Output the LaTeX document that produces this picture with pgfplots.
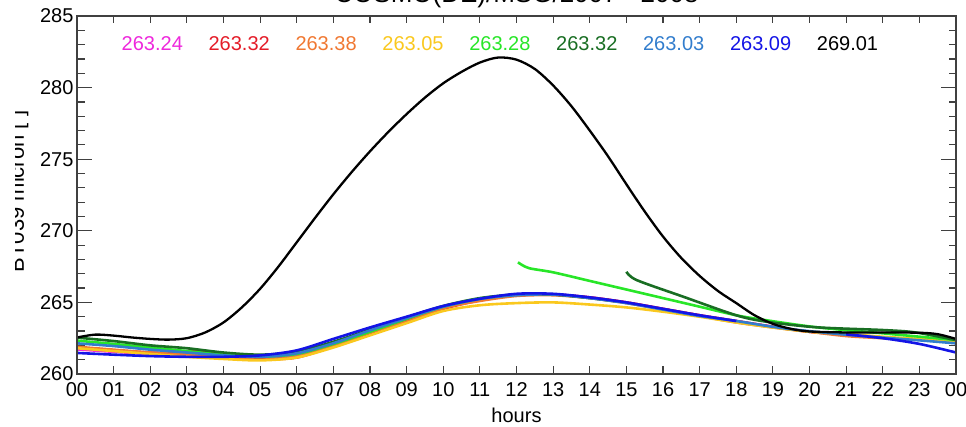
\documentclass[border=0pt]{standalone}
\usepackage{fontspec}
\setmainfont{Liberation Sans}
\usepackage{pgfplots}
\usepackage{pgfplotstable}
\pgfplotsset{compat=1.18}

\definecolor{cMag}{RGB}{238,40,220}
\definecolor{cRed}{RGB}{228,28,40}
\definecolor{cOra}{RGB}{240,120,50}
\definecolor{cYel}{RGB}{250,200,30}
\definecolor{cGre}{RGB}{40,230,40}
\definecolor{cDgr}{RGB}{25,110,35}
\definecolor{cSte}{RGB}{50,125,205}
\definecolor{cBlu}{RGB}{20,20,230}

\pgfplotstableread{
x y
0 262.55
0.5 262.75
1 262.68
1.5 262.55
2 262.45
2.5 262.4
3 262.5
3.5 262.9
4 263.6
4.5 264.65
5 265.95
5.5 267.5
6 269.2
6.5 270.9
7 272.55
7.5 274.1
8 275.55
8.5 276.9
9 278.15
9.5 279.3
10 280.3
10.5 281.1
11 281.75
11.5 282.1
12 281.95
12.5 281.3
13 280.15
13.5 278.7
14 277.0
14.5 275.2
15 273.25
15.5 271.35
16 269.6
16.5 268.1
17 266.85
17.5 265.8
18 264.95
18.5 264.1
19 263.5
19.5 263.15
20 262.97
21 262.9
22 262.9
23 262.88
23.5 262.78
24 262.45
}\blackdata

\pgfplotstableread{
x y
0 261.72
1 261.55
2 261.4
3 261.3
4 261.2
5 261.15
6 261.35
7 262.1
8 262.95
9 263.8
10 264.6
11 265.2
12 265.5
13 265.55
14 265.35
15 265.0
16 264.55
17 264.1
18 263.7
19 263.3
20 262.95
21 262.75
22 262.55
23 262.4
24 262.25
}\magdata

\pgfplotstableread{
x y
0 261.86
1 261.65
2 261.5
2.9 261.45
3.1 261.7
3.4 261.6
4 261.3
5 261.05
6 261.15
7 261.95
8 262.85
9 263.7
10 264.55
11 265.15
12 265.5
13 265.55
14 265.35
15 265.0
16 264.55
17 264.1
18 263.7
19 263.3
20 262.95
21 262.75
22 262.55
23 262.4
24 262.25
}\reddata

\pgfplotstableread{
x y
0 261.9
1 261.7
2 261.5
3 261.35
4 261.15
5 261.0
6 261.2
7 261.95
8 262.9
9 263.65
10 264.6
11 265.1
12 265.45
13 265.5
14 265.3
15 264.95
16 264.5
17 264.05
18 263.6
19 263.25
20 262.95
21 262.65
22 262.5
23 262.4
24 262.3
}\oradata

\pgfplotstableread{
x y
0 261.8
1 261.6
2 261.4
3 261.2
4 261.05
5 260.95
6 261.15
7 261.85
8 262.7
9 263.55
10 264.4
11 264.8
12 264.95
13 265.0
14 264.85
15 264.65
16 264.35
17 264.0
18 263.6
19 263.25
20 262.95
21 262.8
22 262.6
23 262.45
24 262.3
}\yeldata

\pgfplotstableread{
x y
0 262.33
1 262.1
2 261.85
3 261.6
4 261.35
5 261.2
6 261.4
7 262.1
8 262.95
9 263.85
10 264.7
11 265.25
11.8 265.5
}\greAdata

\pgfplotstableread{
x y
12.04 267.8
12.33 267.4
13 267.1
14 266.5
15 265.9
16 265.3
17 264.7
18 264.1
18.7 263.8
20.2 263.26
22 262.84
24 262.37
}\greBdata

\pgfplotstableread{
x y
0 262.54
1 262.3
2 262.0
3 261.8
4 261.5
5 261.35
6 261.55
7 262.25
8 263.1
9 263.95
10 264.75
11 265.3
12 265.55
13 265.55
14 265.3
14.8 265.05
}\dgrAdata

\pgfplotstableread{
x y
15.0 267.14
15.28 266.56
16.55 265.4
18.0 264.1
18.83 263.65
20.2 263.26
22.0 263.07
22.9 262.9
24.0 262.37
}\dgrBdata

\pgfplotstableread{
x y
0 262.14
1 261.95
2 261.7
3 261.5
4 261.3
5 261.2
6 261.45
7 262.15
8 263.05
9 263.9
10 264.7
11 265.25
12 265.5
13 265.55
14 265.3
15 264.95
16 264.5
17 264.05
18 263.7
19.3 263.19
21.1 262.72
22.9 262.37
24 262.14
}\stedata

\pgfplotstableread{
x y
0 261.47
1 261.35
2 261.25
3 261.2
4 261.2
5 261.3
6 261.65
7 262.45
8 263.25
9 264.0
10 264.75
11 265.25
12 265.6
13 265.6
14 265.35
15 265.0
16 264.55
17 264.1
18 263.7
}\bluAdata

\pgfplotstableread{
x y
21 262.77
22 262.5
23 262.1
24 261.5
}\bluBdata

\begin{document}
\begin{tikzpicture}
\useasboundingbox (-77pt,-53pt) rectangle (889pt,374pt);
\begin{axis}[
  at={(0pt,0pt)}, anchor=south west,
  scale only axis, width=879pt, height=358pt,
  xmin=0, xmax=24, ymin=260, ymax=285,
  xtick=\empty,
  ytick={260,265,...,285},
  minor ytick={261,262,263,264,266,267,268,269,271,272,273,274,276,277,278,279,281,282,283,284},
  major tick length=15pt, minor tick length=7.5pt,
  tick align=inside,
  axis line style={line width=1.2pt, black!75},
  every tick/.style={line width=1.2pt, black!75},
  tick label style={font=\fontsize{20}{20}\selectfont},
  /pgf/number format/assume math mode=true,
  yticklabel style={/pgf/number format/1000 sep={}},
  xlabel={hours},
  xlabel style={at={(axis description cs:0.5,0)}, anchor=base, yshift=-49pt, font=\fontsize{20}{20}\selectfont, inner sep=0pt},
  title={COSMO(DE)/MSG/2007 - 2008},
  title style={at={(axis description cs:0.5,1)}, anchor=base, yshift=7.5pt, font=\fontsize{26}{26}\selectfont, inner sep=0pt},
  every axis plot/.append style={smooth, line width=2.6pt},
]
\addplot[cMag] table {\magdata};
\addplot[cRed] table {\reddata};
\addplot[cOra] table {\oradata};
\addplot[cYel] table {\yeldata};
\addplot[cGre] table {\greAdata};
\addplot[cGre] table {\greBdata};
\addplot[cDgr] table {\dgrAdata};
\addplot[cDgr] table {\dgrBdata};
\addplot[cSte] table {\stedata};
\addplot[cBlu] table {\bluAdata};
\addplot[cBlu] table {\bluBdata};
\addplot[black, line width=2.3pt] table {\blackdata};

\begin{scope}[every node/.style={anchor=base, font=\fontsize{20}{20}\selectfont, inner sep=0pt}]
\node[text=cMag] at (axis cs:2.056,282.58) {263.24};
\node[text=cRed] at (axis cs:4.429,282.58) {263.32};
\node[text=cOra] at (axis cs:6.801,282.58) {263.38};
\node[text=cYel] at (axis cs:9.174,282.58) {263.05};
\node[text=cGre] at (axis cs:11.547,282.58) {263.28};
\node[text=cDgr] at (axis cs:13.92,282.58) {263.32};
\node[text=cSte] at (axis cs:16.292,282.58) {263.03};
\node[text=cBlu] at (axis cs:18.665,282.58) {263.09};
\node[text=black] at (axis cs:21.038,282.58) {269.01};
\end{scope}
\end{axis}
\begin{axis}[
  at={(0pt,0pt)}, anchor=south west,
  scale only axis, width=879pt, height=358pt,
  xmin=0, xmax=24, ymin=260, ymax=285,
  ytick=\empty,
  xtick={0,...,24},
  xticklabels={00,01,02,03,04,05,06,07,08,09,10,11,12,13,14,15,16,17,18,19,20,21,22,23,00},
  major tick length=7.5pt,
  tick align=inside,
  axis line style={line width=1.2pt, black!75},
  every tick/.style={line width=1.2pt, black!75},
  tick label style={font=\fontsize{20}{20}\selectfont},
  xticklabel style={yshift=-5pt},
]
\end{axis}
\begin{scope}
\clip (-61pt,0pt) rectangle (0pt,358pt);
\node[rotate=90, anchor=base, font=\fontsize{22}{22}\selectfont, inner sep=0pt] at (-53pt,182.5pt) {BT039 micron [ ]};
\end{scope}
\end{tikzpicture}
\end{document}
